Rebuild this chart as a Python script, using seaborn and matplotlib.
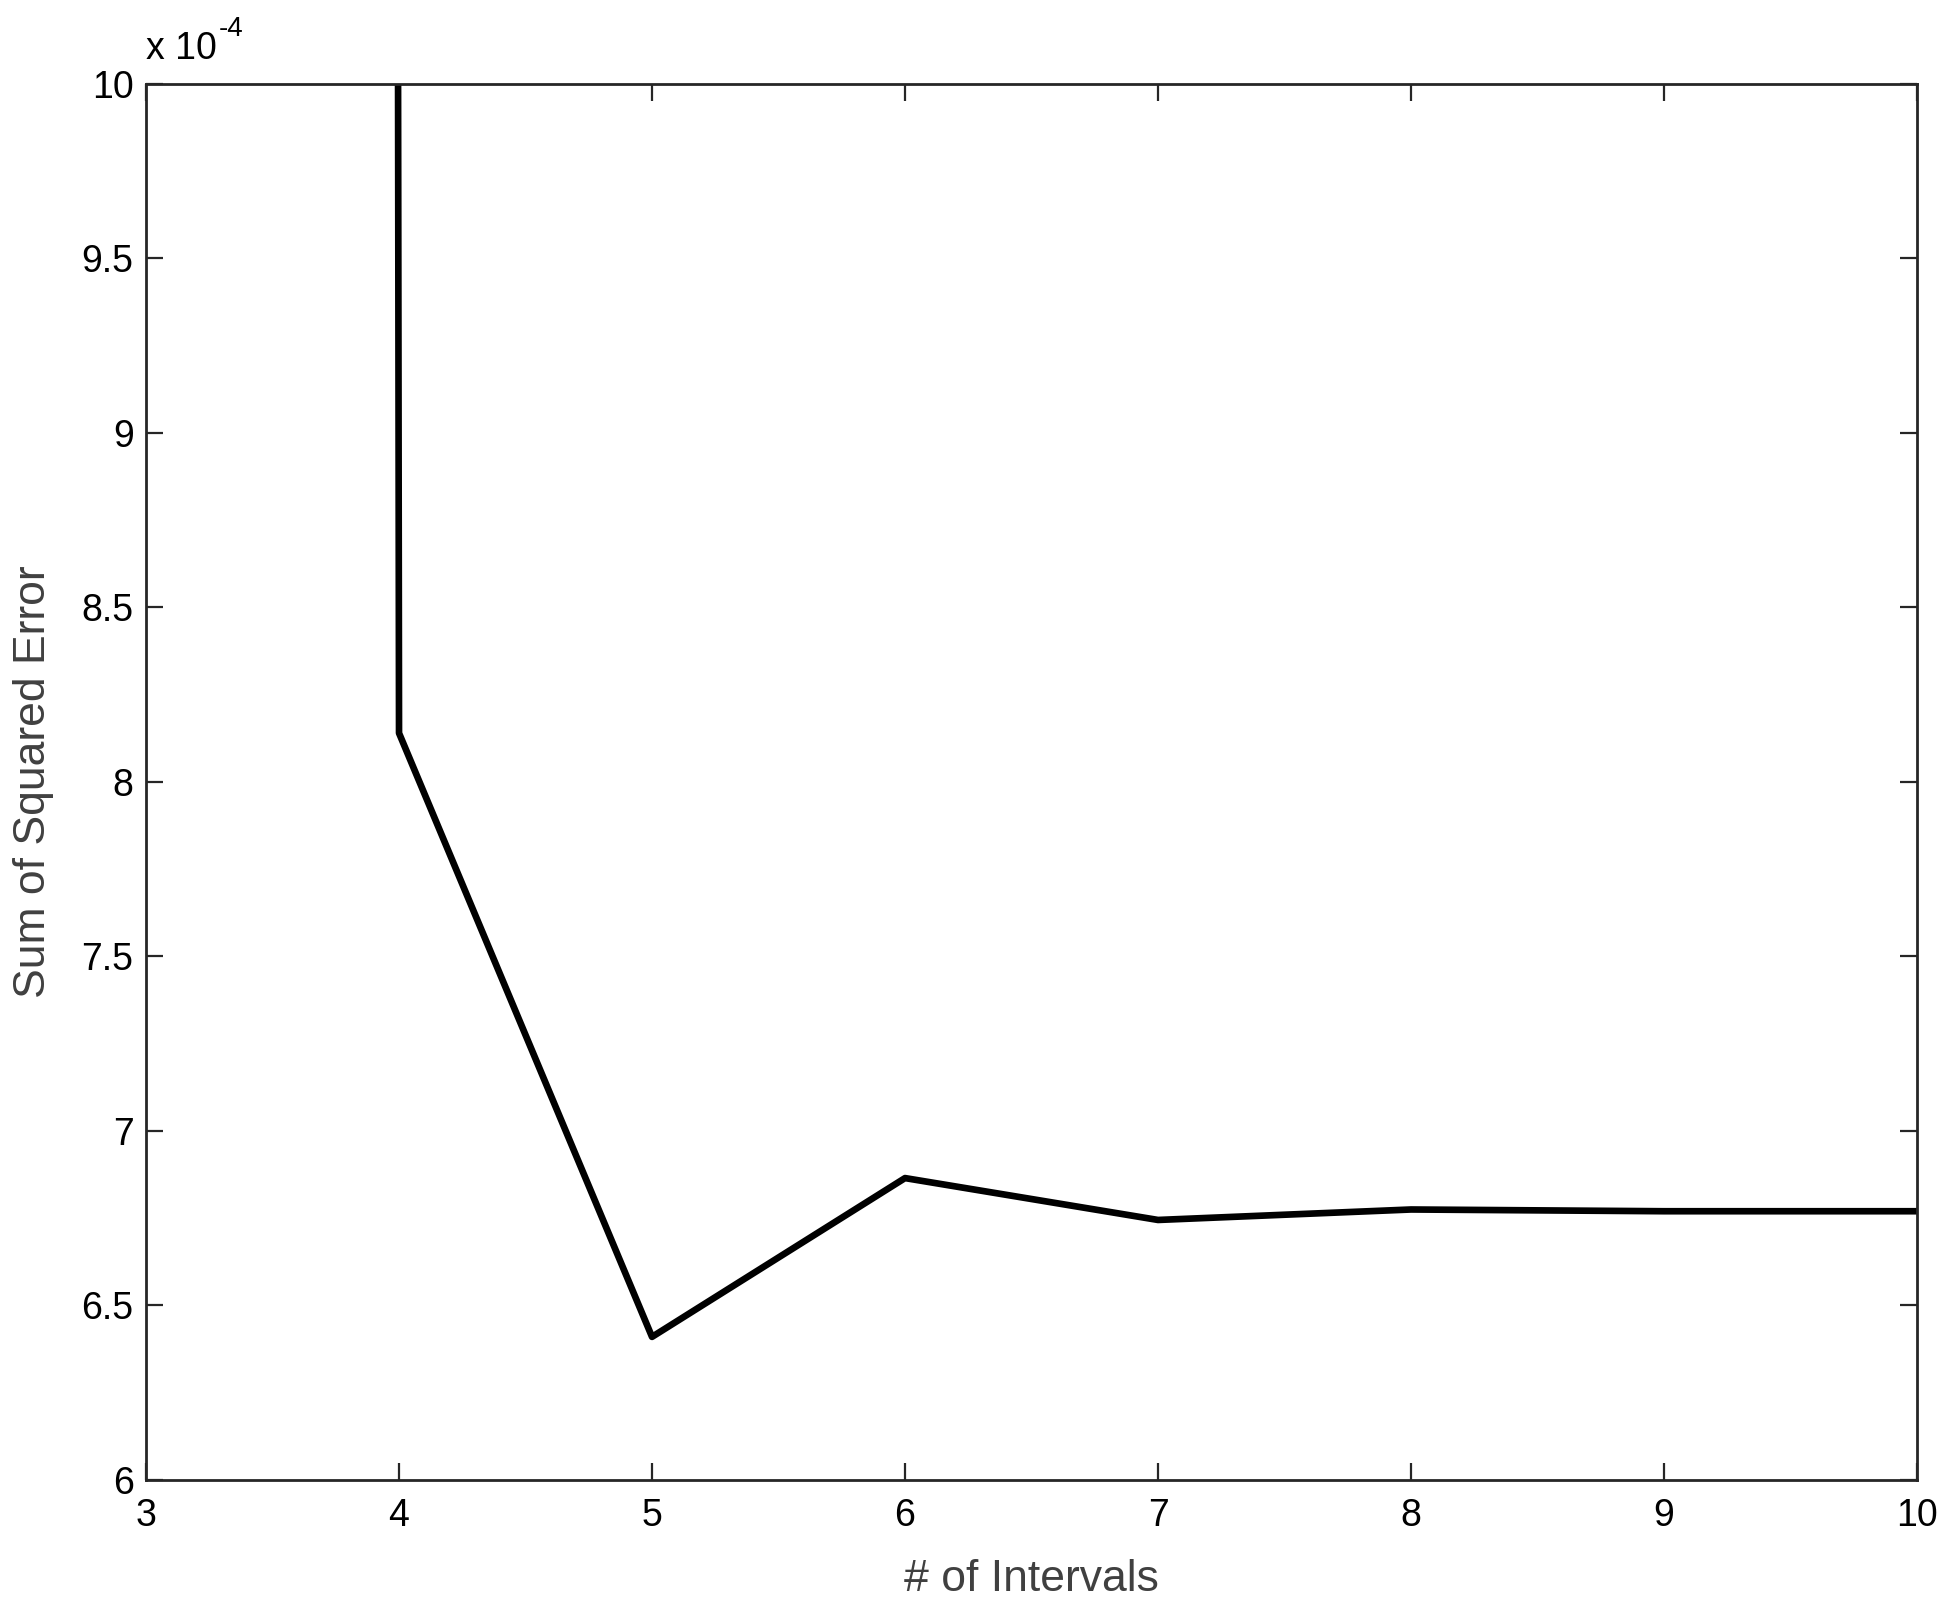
"""Sum of squared error against number of intervals."""

import matplotlib

matplotlib.use("Agg")

import matplotlib.pyplot as plt
import pandas as pd
import seaborn as sns
from matplotlib.ticker import FuncFormatter


# the value at 3 intervals runs far above the plotted range
INTERVALS = [3, 4, 5, 6, 7, 8, 9, 10]
SSE = [5.0e-2, 8.14e-4, 6.41e-4, 6.865e-4, 6.745e-4, 6.775e-4, 6.77e-4, 6.77e-4]
X_TICKS = [3, 4, 5, 6, 7, 8, 9, 10]
Y_TICKS = [6e-4, 6.5e-4, 7e-4, 7.5e-4, 8e-4, 8.5e-4, 9e-4, 9.5e-4, 10e-4]

LABEL_COLOR = "#404040"
SPINE_COLOR = "#262626"


def main() -> None:
    sns.set_style("ticks")
    plt.rcParams["font.family"] = ["Liberation Sans", "DejaVu Sans"]

    data = pd.DataFrame({"intervals": INTERVALS, "sse": SSE})

    fig = plt.figure(figsize=(19.47, 16.05), dpi=100)
    ax = fig.add_axes([0.075, 0.0779, 0.9096, 0.8698])

    sns.lineplot(data=data, x="intervals", y="sse", color="black",
                 linewidth=4.8, ax=ax)

    ax.set_xlim(3, 10)
    ax.set_ylim(6e-4, 10e-4)
    ax.set_xticks(X_TICKS)
    ax.set_yticks(Y_TICKS)
    ax.yaxis.set_major_formatter(FuncFormatter(lambda v, _: f"{v / 1e-4:g}"))

    for spine in ax.spines.values():
        spine.set_visible(True)
        spine.set_linewidth(2.0)
        spine.set_color(SPINE_COLOR)

    ax.tick_params(axis="both", which="major", direction="in", length=12.5,
                   width=1.6, color=SPINE_COLOR, labelsize=27,
                   labelcolor="black", top=True, right=True)
    ax.tick_params(axis="x", pad=13)
    ax.tick_params(axis="y", pad=9)

    ax.set_xlabel("# of Intervals", fontsize=32, color=LABEL_COLOR, labelpad=18)
    ax.set_ylabel("Sum of Squared Error", fontsize=32, color=LABEL_COLOR,
                  labelpad=20)

    # MATLAB-style exponent note above the y axis
    base = ax.text(0.0, 1.012, "x 10", transform=ax.transAxes, fontsize=27,
                   ha="left", va="bottom", color="black")
    ax.annotate("-4", xy=(1.0, 1.0), xycoords=base, xytext=(1, -8),
                textcoords="offset points", fontsize=20, ha="left",
                va="bottom", color="black")

    fig.savefig("out.png", dpi=100, facecolor="white")
    plt.close(fig)


if __name__ == "__main__":
    main()
